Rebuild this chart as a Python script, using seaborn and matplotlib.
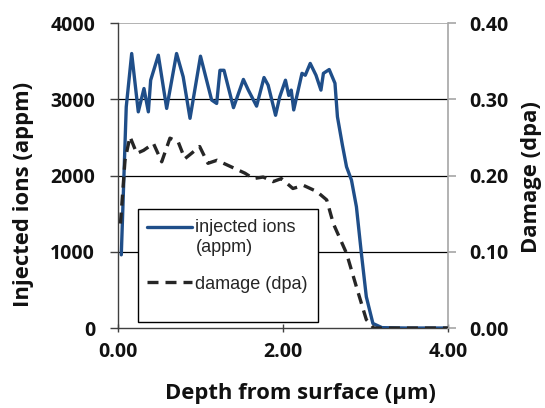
import matplotlib
matplotlib.use("Agg")
import matplotlib.pyplot as plt
import seaborn as sns
import pandas as pd
import numpy as np
from matplotlib.lines import Line2D
from matplotlib.patches import Rectangle
from matplotlib.legend_handler import HandlerLine2D

# Injected ions (appm) vs depth (um)
ions_depth = [0.04, 0.10, 0.166, 0.246, 0.315, 0.368, 0.396, 0.489, 0.59, 0.71, 0.79, 0.873,
              1.00, 1.135, 1.196, 1.236, 1.285, 1.40, 1.52, 1.58, 1.68, 1.77, 1.82, 1.91,
              1.96, 2.03, 2.07, 2.10, 2.13, 2.23, 2.27, 2.33, 2.40, 2.46, 2.49, 2.56, 2.63,
              2.66, 2.72, 2.77, 2.83, 2.89, 2.95, 3.01, 3.09, 3.20, 3.50, 4.00]
ions_appm = [960, 2900, 3600, 2835, 3141, 2835, 3250, 3578, 2880, 3600, 3295, 2750,
             3565, 2990, 2945, 3380, 3380, 2890, 3260, 3120, 2910, 3285, 3185, 2790,
             3030, 3250, 3050, 3120, 2860, 3340, 3315, 3470, 3315, 3120, 3340, 3390, 3210,
             2770, 2400, 2115, 1940, 1590, 980, 410, 60, 5, 0, 0]

# Damage (dpa) vs depth (um)
dmg_depth = [0.03, 0.085, 0.145, 0.227, 0.31, 0.43, 0.53, 0.63, 0.73, 0.81, 0.89, 0.99,
             1.09, 1.20, 1.36, 1.54, 1.64, 1.76, 1.88, 1.98, 2.12, 2.25, 2.41, 2.53,
             2.61, 2.77, 2.89, 3.01, 3.10, 3.50, 4.00]
dmg_dpa = [0.137, 0.220, 0.251, 0.229, 0.233, 0.242, 0.218, 0.249, 0.244, 0.222, 0.229, 0.238,
           0.216, 0.220, 0.212, 0.203, 0.196, 0.198, 0.192, 0.196, 0.183, 0.187, 0.179, 0.168,
           0.137, 0.098, 0.054, 0.011, 0.0, 0.0, 0.0]

x_ticks = [0, 2, 4]
x_ticklabels = ["0.00", "2.00", "4.00"]
left_ticks = [0, 1000, 2000, 3000, 4000]
right_ticks = [0.0, 0.1, 0.2, 0.3, 0.4]
legend_labels = ["injected ions\n(appm)", "damage (dpa)"]

sns.set_style("white")
plt.rcParams['font.family'] = ['Open Sans', 'DejaVu Sans']

fig = plt.figure(figsize=(5.45, 4.08), dpi=100)
ax = fig.add_axes([0.2165, 0.196, 0.6055, 0.7476])
ax2 = ax.twinx()

blue = "#1f4e89"
dark = "#262626"
txt = "#111111"
DASH = [3.3, 2.1]

df_ions = pd.DataFrame({"depth": ions_depth, "ions": ions_appm})
df_dmg = pd.DataFrame({"depth": dmg_depth, "dpa": dmg_dpa})

sns.lineplot(data=df_ions, x="depth", y="ions", ax=ax, color=blue, linewidth=2.4, zorder=3)
sns.lineplot(data=df_dmg, x="depth", y="dpa", ax=ax2, color=dark, linewidth=2.4, zorder=3)
ax.lines[0].set_solid_joinstyle("round")
ax.lines[0].set_solid_capstyle("round")
ax2.lines[0].set_dashes(DASH)
ax2.lines[0].set_dash_joinstyle("round")

ax.set_xlim(0, 4)
ax.set_ylim(0, 4000)
ax2.set_ylim(0, 0.4)
ax.set_xticks(x_ticks)
ax.set_xticklabels(x_ticklabels)
ax.set_yticks(left_ticks)
ax.set_yticklabels([str(v) for v in left_ticks])
ax2.set_yticks(right_ticks)
ax2.set_yticklabels([f"{v:.2f}" for v in right_ticks])

# gridlines
for v in [1000, 2000, 3000]:
    ax.axhline(v, color="#000000", linewidth=0.9, zorder=1)
ax.axhline(4000, color="#a6a6a6", linewidth=1.2, zorder=1)

for a in (ax, ax2):
    for s in a.spines.values():
        s.set_visible(False)
for side in ("left", "bottom"):
    ax.spines[side].set_visible(True)
    ax.spines[side].set_color("#404040")
    ax.spines[side].set_linewidth(1.0)
ax2.spines['right'].set_visible(True)
ax2.spines['right'].set_color("#a6a6a6")
ax2.spines['right'].set_linewidth(1.2)

FS_TICK = 14
ax.tick_params(axis="x", direction="inout", length=6, width=1.0, color="#404040",
               labelsize=FS_TICK, pad=7, bottom=True)
ax.tick_params(axis="y", direction="out", length=6, width=1.0, color="#404040",
               labelsize=FS_TICK, pad=10.5, left=True)
ax2.tick_params(axis="y", direction="out", length=6, width=1.2, color="#a6a6a6",
                labelsize=FS_TICK, pad=9.5, right=True)
for lab in ax.get_xticklabels() + ax.get_yticklabels() + ax2.get_yticklabels():
    lab.set_fontweight("bold")
    lab.set_color(txt)

FS_LAB = 15.8
ax.set_xlabel("Depth from surface (µm)", fontsize=FS_LAB, fontweight="bold", color=txt)
ax.set_ylabel("Injected ions (appm)", fontsize=FS_LAB, fontweight="bold", color=txt)
ax2.set_ylabel("Damage (dpa)", fontsize=FS_LAB, fontweight="bold", color=txt)
ax.xaxis.set_label_coords(0.552, -0.213)
ax.xaxis.label.set_va("center")
ax.yaxis.set_label_coords(-0.285, 0.439)
ax.yaxis.label.set_va("center")
ax2.yaxis.set_label_coords(1.2545, 0.495)
ax2.yaxis.label.set_va("center")

# legend box
box = Rectangle((0.062, 0.021), 0.545, 0.368, transform=ax2.transAxes,
                facecolor="white", edgecolor="black", linewidth=1.0, zorder=10)
ax2.add_patch(box)


class HandlerShift(HandlerLine2D):
    def __init__(self, shift, **kw):
        super().__init__(**kw)
        self.shift = shift

    def create_artists(self, legend, orig_handle, xdescent, ydescent, width, height,
                       fontsize, trans):
        arts = super().create_artists(legend, orig_handle, xdescent, ydescent, width,
                                      height, fontsize, trans)
        for a in arts:
            a.set_ydata(np.asarray(a.get_ydata()) + self.shift)
        return arts


h1 = Line2D([], [], color=blue, linewidth=2.4)
h2 = Line2D([], [], color=dark, linewidth=2.4, dashes=DASH)
leg = ax2.legend([h1, h2], legend_labels, loc="upper left",
                 bbox_to_anchor=(0.087, 0.358), frameon=False,
                 borderaxespad=0, borderpad=0, handlelength=2.5, handletextpad=0.2,
                 labelspacing=1.07, handler_map={h1: HandlerShift(7.7)},
                 prop={"family": "Liberation Sans", "size": 13})
leg.set_zorder(11)
for t in leg.get_texts():
    t.set_color("#262626")
    t.set_linespacing(1.27)

fig.savefig("out.png", dpi=100)
